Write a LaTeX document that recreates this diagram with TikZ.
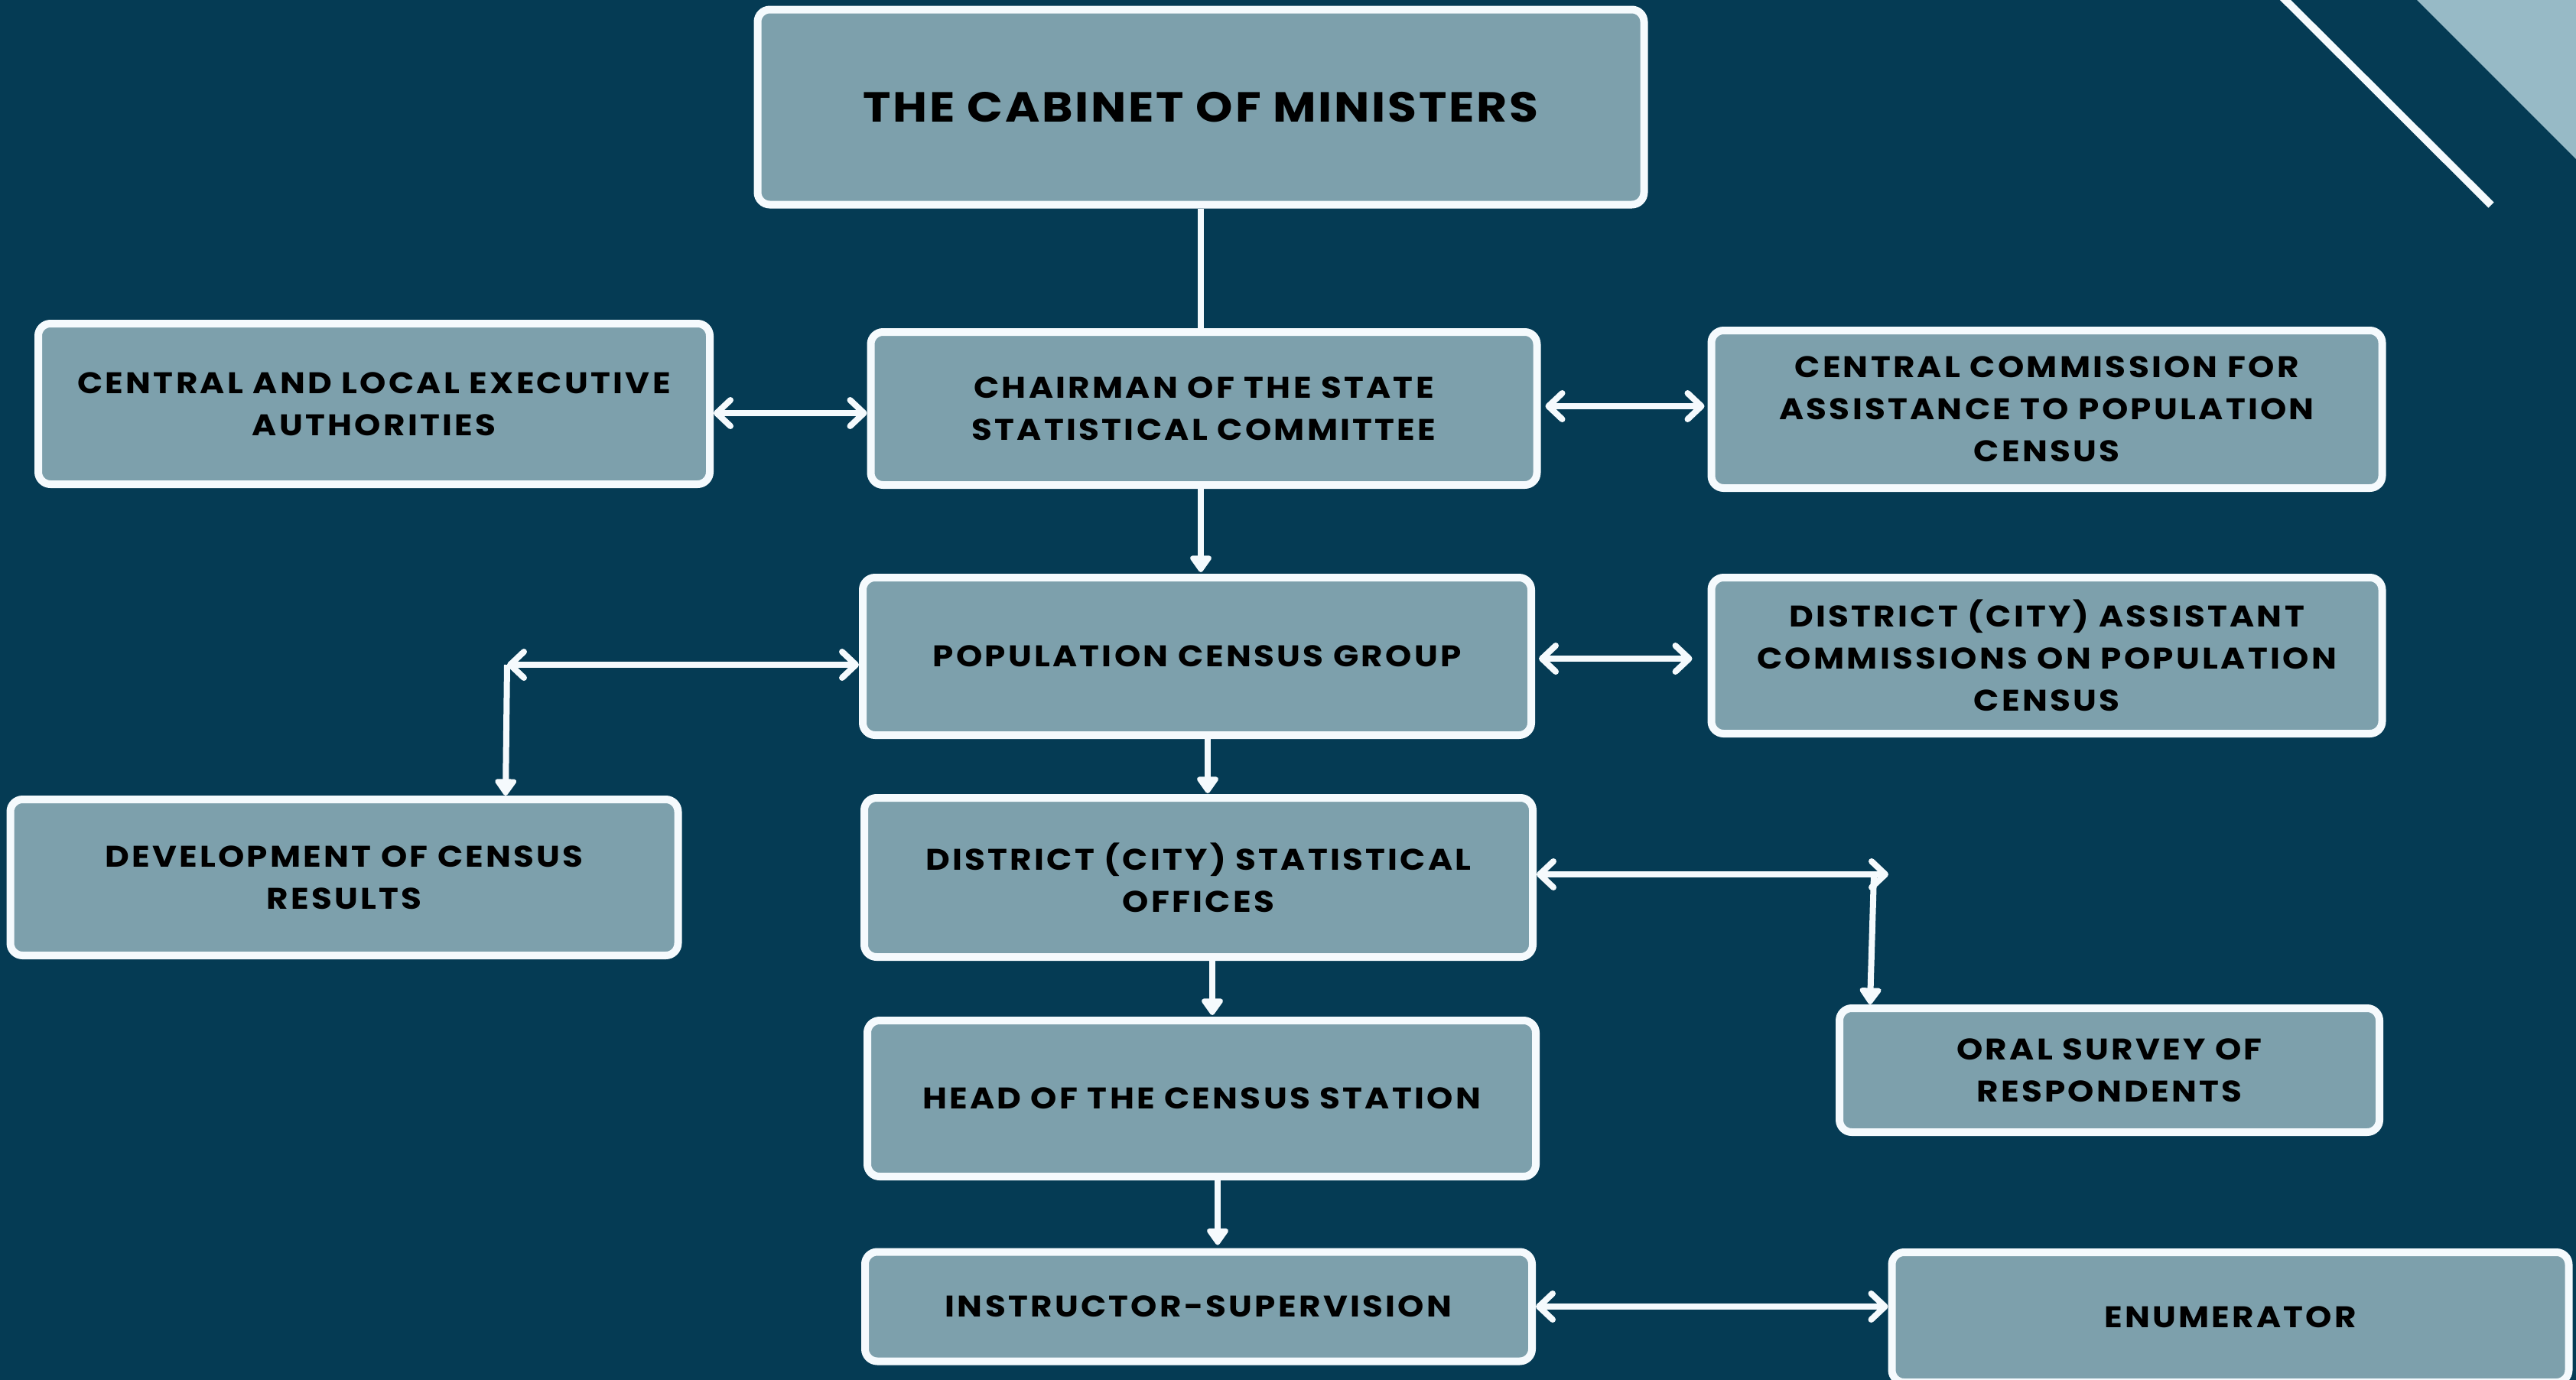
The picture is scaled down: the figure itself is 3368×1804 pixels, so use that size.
\documentclass[tikz,border=0pt]{standalone}
\usepackage{fontspec}
\setmainfont{Poppins}
\newfontfamily\lbl{Poppins}[LetterSpace=8.4,FakeStretch=1.12]
\newfontfamily\lblbig{Poppins}[LetterSpace=5,FakeStretch=1.12]
\usetikzlibrary{arrows.meta}
\definecolor{bg}{HTML}{053B54}
\definecolor{boxc}{HTML}{7DA0AC}
\definecolor{tri}{HTML}{97BAC6}
\definecolor{wht}{HTML}{F5FAFD}
\begin{document}
\begin{tikzpicture}[x=1pt,y=-1pt,
 box/.style={draw=wht, line width=10pt, fill=boxc, rounded corners=16pt, inner sep=0pt, align=center, text=black,
   font=\lbl\bfseries\fontsize{39}{55}\selectfont},
 dbl/.style={draw=wht, line width=8pt, {Straight Barb[length=18pt,width=34pt,line cap=round,line join=round]}-{Straight Barb[length=18pt,width=34pt,line cap=round,line join=round]}},
 dn/.style={draw=wht, line width=8pt, -{Triangle[length=24pt,width=32pt,round]}},
 ln/.style={draw=wht, line width=8pt}]
\fill[bg] (0,0) rectangle (3368,1804);
\useasboundingbox (0,0) rectangle (3368,1804);
% decoration
\fill[tri] (3160,0) -- (3368,0) -- (3368,208) -- cycle;
\draw[wht, line width=10pt] (2983,-5) -- (3257,268);
% nodes
\node[box, minimum width=1159pt, minimum height=255pt, font=\lblbig\bfseries\fontsize{55}{60}\selectfont] (cab) at (1570,140) {THE CABINET OF MINISTERS};
\node[box, minimum width=878pt, minimum height=210pt] (cla) at (489,528) {CENTRAL AND LOCAL EXECUTIVE\\AUTHORITIES};
\node[box, minimum width=871pt, minimum height=200pt] (chair) at (1574,534) {CHAIRMAN OF THE STATE\\STATISTICAL COMMITTEE};
\node[box, minimum width=877pt, minimum height=206pt] (ccom) at (2676,535) {CENTRAL COMMISSION FOR\\ASSISTANCE TO POPULATION\\CENSUS};
\node[box, minimum width=874pt, minimum height=206pt] (pcg) at (1565,858) {POPULATION CENSUS GROUP};
\node[box, minimum width=877pt, minimum height=204pt] (dac) at (2676,857) {DISTRICT (CITY) ASSISTANT\\COMMISSIONS ON POPULATION\\CENSUS};
\node[box, minimum width=873pt, minimum height=204pt] (dev) at (450,1147) {DEVELOPMENT OF CENSUS\\RESULTS};
\node[box, minimum width=874pt, minimum height=208pt] (dso) at (1567,1147) {DISTRICT (CITY) STATISTICAL\\OFFICES};
\node[box, minimum width=874pt, minimum height=204pt] (head) at (1571,1436) {HEAD OF THE CENSUS STATION};
\node[box, minimum width=706pt, minimum height=162pt] (oral) at (2758,1399) {ORAL SURVEY OF\\RESPONDENTS};
\node[box, minimum width=872pt, minimum height=143pt] (instr) at (1567,1708) {INSTRUCTOR-SUPERVISION};
\node[box, minimum width=885pt, minimum height=170pt] (enum) at (2916,1722) {ENUMERATOR};
% helper coordinates
\coordinate (c1) at (663,869);
\coordinate (c2) at (2469,1143);
\coordinate (c3) at (2450,1143);
\coordinate (v1) at (1570,0);
\coordinate (v2) at (1579,0);
\coordinate (v3) at (1585,0);
\coordinate (v4) at (1592,0);
\coordinate (h1) at (0,540);
\coordinate (h2) at (0,531);
\coordinate (h3) at (0,861);
\coordinate (h4) at (0,1708);
% connectors
\draw[ln] (v1 |- cab.south) -- (v1 |- chair.north);
\draw[dbl] (cla.east |- h1) -- (chair.west |- h1);
\draw[dbl] ([xshift=6pt]chair.east |- h2) -- ([xshift=-4pt]ccom.west |- h2);
\draw[dn] (v1 |- chair.south) -- ([yshift=2pt]v1 |- pcg.north);
\draw[dbl] (c1) -- (pcg.west |- c1);
\draw[dn] (c1) -- ([xshift=-2pt]c1 |- dev.north);
\draw[dbl] ([xshift=5pt]pcg.east |- h3) -- ([xshift=-20pt]dac.west |- h3);
\draw[dn] ([yshift=8pt]v2 |- pcg.south) -- ([yshift=1pt]v2 |- dso.north);
\draw[dbl] (dso.east |- c2) -- (c2);
\draw[dn] (c3) -- ([xshift=-5pt]c3 |- oral.north);
\draw[dn] ([yshift=6pt]v3 |- dso.south) -- ([yshift=2pt]v3 |- head.north);
\draw[dn] (v4 |- head.south) -- ([yshift=4pt]v4 |- instr.north);
\draw[dbl] (instr.east |- h4) -- (enum.west |- h4);
\end{tikzpicture}
\end{document}
